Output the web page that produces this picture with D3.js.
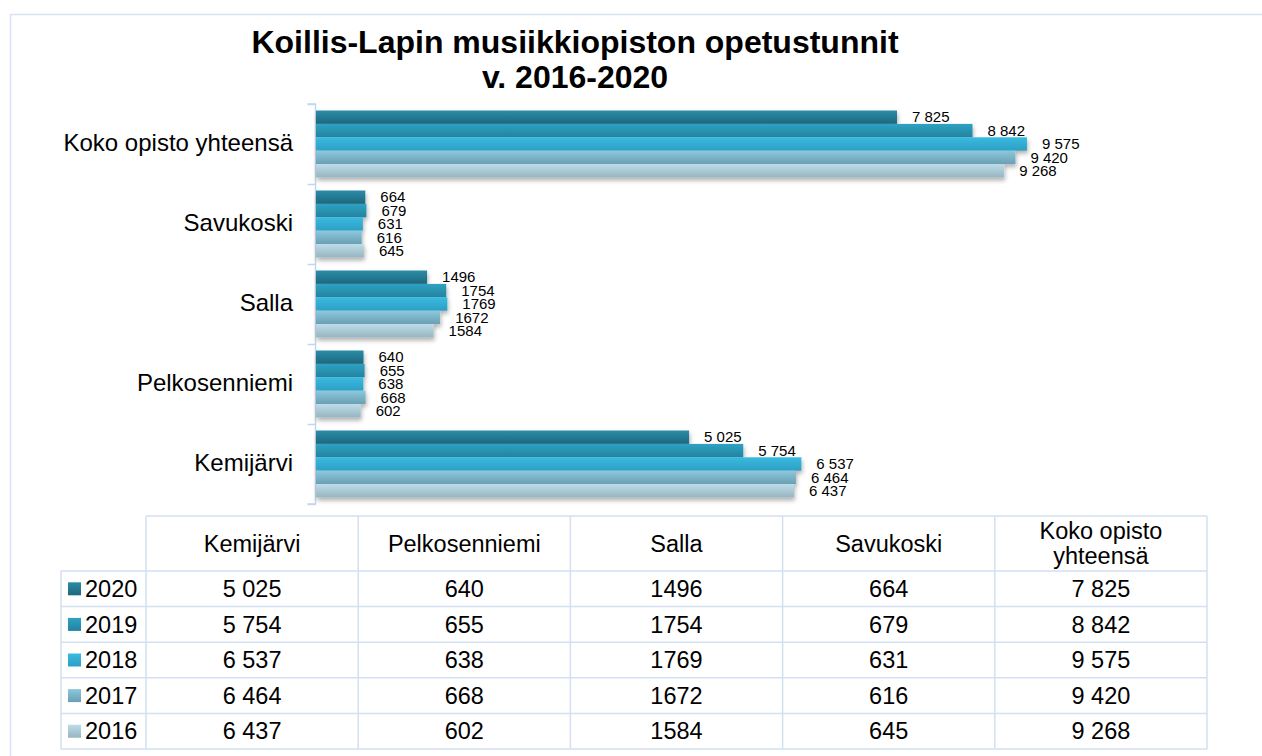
<!DOCTYPE html>
<html>
<head>
<meta charset="utf-8">
<script src="https://cdn.jsdelivr.net/npm/d3@7"></script>
<style>
    body { margin: 0; background: #fff; }
    svg { font-family: Arial, "Liberation Sans", sans-serif; display: block; }
</style>
</head>
<body>
<div id="chart"></div>
<script>
// data
const categories = ['Kemijärvi', 'Pelkosenniemi', 'Salla', 'Savukoski', 'Koko opisto yhteensä'];
const years = ['2020', '2019', '2018', '2017', '2016'];
const values2020 = [5025, 640, 1496, 664, 7825];
const values2019 = [5754, 655, 1754, 679, 8842];
const values2018 = [6537, 638, 1769, 631, 9575];
const values2017 = [6464, 668, 1672, 616, 9420];
const values2016 = [6437, 602, 1584, 645, 9268];
const xMax = 12000;
// these categories print thousands with a space, the others without
const spacedCategories = ['Kemijärvi', 'Koko opisto yhteensä'];

const seriesValues = {
    '2020': values2020, '2019': values2019, '2018': values2018,
    '2017': values2017, '2016': values2016
};

// gradient top / bottom per year
const seriesColors = {
    '2020': ['#2a8ca8', '#1e677c'],
    '2019': ['#2fa2c3', '#2382a0'],
    '2018': ['#3abae0', '#2c9fc3'],
    '2017': ['#8cc8dd', '#6a9fb3'],
    '2016': ['#bcdde9', '#97b5c0']
};

const width = 1262;
const height = 756;
const plot = { left: 316, right: 1207, top: 104, bottom: 504 };
const table = { left: 146, legendLeft: 61, right: 1207, top: 516, headerBottom: 571, bottom: 749 };
const lineColor = '#d3e0f1';
const tableFont = '23.5px';

const fmtSpaced = d3.formatLocale({ decimal: ',', thousands: ' ', grouping: [3], currency: ['', ''] }).format(',d');
const fmtPlain = d3.format('d');
const fmt = (cat, v) => spacedCategories.includes(cat) ? fmtSpaced(v) : fmtPlain(v);

const svg = d3.select('#chart')
    .append('svg')
    .attr('width', width)
    .attr('height', height);

const defs = svg.append('defs');
years.forEach(y => {
    const g = defs.append('linearGradient')
        .attr('id', 'grad' + y)
        .attr('x1', 0).attr('y1', 0).attr('x2', 0).attr('y2', 1);
    g.append('stop').attr('offset', '0%').attr('stop-color', seriesColors[y][0]);
    g.append('stop').attr('offset', '100%').attr('stop-color', seriesColors[y][1]);
});
const shadow = defs.append('filter')
    .attr('id', 'shadow')
    .attr('x', '-5%').attr('y', '-10%').attr('width', '115%').attr('height', '130%');
shadow.append('feDropShadow')
    .attr('dx', 1).attr('dy', 3).attr('stdDeviation', 2)
    .attr('flood-color', '#000').attr('flood-opacity', 0.3);

// outer frame
svg.append('rect')
    .attr('x', 10.5).attr('y', 14.5)
    .attr('width', 1400).attr('height', 800)
    .attr('fill', 'none')
    .attr('stroke', '#d6e2f1')
    .attr('stroke-width', 1.5);

// title
const title = svg.append('text')
    .attr('text-anchor', 'middle')
    .attr('font-size', '32px')
    .attr('font-weight', 'bold')
    .attr('fill', '#000');
title.append('tspan').attr('x', 575).attr('y', 53).text('Koillis-Lapin musiikkiopiston opetustunnit');
title.append('tspan').attr('x', 575).attr('y', 88).text('v. 2016-2020');

// scales
const x = d3.scaleLinear()
    .domain([0, xMax])
    .range([plot.left, plot.right]);

// top to bottom the chart runs in reverse table order
const y = d3.scaleBand()
    .domain(categories.slice().reverse())
    .range([plot.top, plot.bottom])
    .paddingInner(0.1625)
    .paddingOuter(0.08125);

const ySeries = d3.scaleBand()
    .domain(years)
    .range([0, y.bandwidth()]);

// category axis
const yAxis = d3.scalePoint()
    .domain(d3.range(categories.length + 1))
    .range([plot.top, plot.bottom]);

const axisG = svg.append('g')
    .attr('transform', `translate(${plot.left - 0.5},0)`)
    .call(d3.axisLeft(yAxis).tickSize(8).tickFormat(''));
axisG.selectAll('path, line').attr('stroke', '#c3d6ee').attr('stroke-width', 1.5);
axisG.select('.domain').attr('d', `M-8,${plot.top}H0V${plot.bottom}H-8`);

svg.selectAll('.cat-label')
    .data(categories)
    .enter()
    .append('text')
    .attr('class', 'cat-label')
    .attr('x', 293)
    .attr('y', d => y(d) + y.bandwidth() / 2 - 1)
    .attr('dy', '0.35em')
    .attr('text-anchor', 'end')
    .attr('font-size', '24px')
    .attr('fill', '#000')
    .text(d => d);

// bars
const groups = svg.selectAll('.cat')
    .data(categories)
    .enter()
    .append('g')
    .attr('class', 'cat')
    .attr('transform', d => `translate(0,${y(d)})`);

groups.append('g')
    .attr('filter', 'url(#shadow)')
    .selectAll('rect')
    .data((c, i) => years.map(yr => ({ cat: c, year: yr, value: seriesValues[yr][i] })))
    .enter()
    .append('rect')
    .attr('x', x(0))
    .attr('y', d => ySeries(d.year))
    .attr('width', d => x(d.value) - x(0))
    .attr('height', ySeries.bandwidth())
    .attr('fill', d => `url(#grad${d.year})`);

groups.selectAll('.label')
    .data((c, i) => years.map(yr => ({ cat: c, year: yr, value: seriesValues[yr][i] })))
    .enter()
    .append('text')
    .attr('class', 'label')
    .attr('x', d => x(d.value) + 15)
    .attr('y', d => ySeries(d.year) + ySeries.bandwidth() / 2)
    .attr('dy', '0.35em')
    .attr('font-size', '15px')
    .attr('fill', '#000')
    .text(d => fmt(d.cat, d.value));

// data table
const col = d3.scaleBand()
    .domain(categories)
    .range([table.left, table.right]);

const row = d3.scaleBand()
    .domain(years)
    .range([table.headerBottom, table.bottom]);

const tbl = svg.append('g').attr('class', 'table');
const hLine = (x1, x2, yy) => tbl.append('line')
    .attr('x1', x1).attr('x2', x2).attr('y1', yy).attr('y2', yy)
    .attr('stroke', lineColor).attr('stroke-width', 1.5);
const vLine = (xx, y1, y2) => tbl.append('line')
    .attr('x1', xx).attr('x2', xx).attr('y1', y1).attr('y2', y2)
    .attr('stroke', lineColor).attr('stroke-width', 1.5);

hLine(table.left, table.right, table.top);
years.forEach(yr => hLine(table.legendLeft, table.right, row(yr)));
hLine(table.legendLeft, table.right, table.bottom);
vLine(table.legendLeft, table.headerBottom, table.bottom);
vLine(table.left, table.top, table.bottom);
categories.forEach(c => vLine(col(c) + col.bandwidth(), table.top, table.bottom));

// header
categories.forEach(c => {
    const words = c === 'Koko opisto yhteensä' ? ['Koko opisto', 'yhteensä'] : [c];
    const cy = (table.top + table.headerBottom) / 2;
    const t = tbl.append('text')
        .attr('text-anchor', 'middle')
        .attr('font-size', tableFont)
        .attr('fill', '#000');
    words.forEach((w, i) => {
        t.append('tspan')
            .attr('x', col(c) + col.bandwidth() / 2)
            .attr('y', cy + (i - (words.length - 1) / 2) * 25)
            .attr('dy', '0.35em')
            .text(w);
    });
});

// legend column
years.forEach(yr => {
    tbl.append('rect')
        .attr('x', 68)
        .attr('y', row(yr) + row.bandwidth() / 2 - 6.5)
        .attr('width', 13)
        .attr('height', 13)
        .attr('fill', `url(#grad${yr})`);
    tbl.append('text')
        .attr('x', 85)
        .attr('y', row(yr) + row.bandwidth() / 2)
        .attr('dy', '0.35em')
        .attr('font-size', tableFont)
        .attr('fill', '#000')
        .text(yr);
});

// values
years.forEach(yr => {
    categories.forEach((c, i) => {
        tbl.append('text')
            .attr('x', col(c) + col.bandwidth() / 2)
            .attr('y', row(yr) + row.bandwidth() / 2)
            .attr('dy', '0.35em')
            .attr('text-anchor', 'middle')
            .attr('font-size', tableFont)
            .attr('fill', '#000')
            .text(fmt(c, seriesValues[yr][i]));
    });
});
</script>
</body>
</html>
